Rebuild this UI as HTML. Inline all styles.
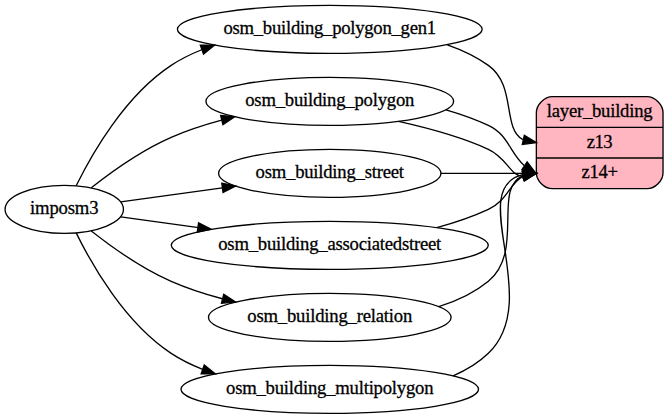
<!DOCTYPE html>
<html><head><meta charset="utf-8"><style>
html,body{margin:0;padding:0;background:#fff;width:668px;height:419px;overflow:hidden}
svg{display:block}
text{font-family:"Liberation Serif",serif;stroke:#000;stroke-width:0.22px}
</style></head><body>
<svg width="668" height="419" viewBox="0 0 501 314.25">
<g id="graph0" class="graph" transform="scale(1 1) rotate(0) translate(4 310)">
<polygon fill="white" stroke="transparent" points="-4,4 -4,-310 497.27,-310 497.27,4 -4,4"/>
<g id="node1" class="node">
<path fill="lightpink" stroke="black" d="M410.27,-168.5C410.27,-168.5 481.27,-168.5 481.27,-168.5 487.27,-168.5 493.27,-174.5 493.27,-180.5 493.27,-180.5 493.27,-225.5 493.27,-225.5 493.27,-231.5 487.27,-237.5 481.27,-237.5 481.27,-237.5 410.27,-237.5 410.27,-237.5 404.27,-237.5 398.27,-231.5 398.27,-225.5 398.27,-225.5 398.27,-180.5 398.27,-180.5 398.27,-174.5 404.27,-168.5 410.27,-168.5"/>
<text text-anchor="middle" x="445.77" y="-222.3" font-family="Liberation Serif, serif" font-size="14.00" textLength="79.36">layer_building</text>
<polyline fill="none" stroke="black" points="398.27,-214.5 493.27,-214.5 "/>
<text text-anchor="middle" x="445.77" y="-199.3" font-family="Liberation Serif, serif" font-size="14.00" textLength="19.45">z13</text>
<polyline fill="none" stroke="black" points="398.27,-191.5 493.27,-191.5 "/>
<text text-anchor="middle" x="445.77" y="-176.3" font-family="Liberation Serif, serif" font-size="14.00" textLength="27.35">z14+</text>
</g>
<g id="node2" class="node">
<ellipse fill="none" stroke="black" cx="44.2" cy="-153" rx="44.39" ry="18"/>
<text text-anchor="middle" x="44.2" y="-149.3" font-family="Liberation Serif, serif" font-size="14.00" textLength="51.34">imposm3</text>
</g>
<g id="node3" class="node">
<ellipse fill="none" stroke="black" cx="243.33" cy="-288" rx="114.28" ry="18"/>
<text text-anchor="middle" x="243.33" y="-284.3" font-family="Liberation Serif, serif" font-size="14.00" textLength="159.53">osm_building_polygon_gen1</text>
</g>
<g id="edge1" class="edge">
<path fill="none" stroke="black" d="M53.14,-170.64C65.03,-194.93 89.81,-238.27 124.39,-261 131.46,-265.64 139.22,-269.5 147.28,-272.69"/>
<polygon fill="black" stroke="black" points="146.26,-276.04 156.85,-276.14 148.63,-269.46 146.26,-276.04"/>
</g>
<g id="node4" class="node">
<ellipse fill="none" stroke="black" cx="243.33" cy="-234" rx="92.88" ry="18"/>
<text text-anchor="middle" x="243.33" y="-230.3" font-family="Liberation Serif, serif" font-size="14.00" textLength="126.83">osm_building_polygon</text>
</g>
<g id="edge2" class="edge">
<path fill="none" stroke="black" d="M64.48,-169.21C79.81,-181.3 102.28,-197.34 124.39,-207 136.28,-212.19 149.3,-216.45 162.2,-219.92"/>
<polygon fill="black" stroke="black" points="161.48,-223.35 172.03,-222.43 163.21,-216.57 161.48,-223.35"/>
</g>
<g id="node5" class="node">
<ellipse fill="none" stroke="black" cx="243.33" cy="-180" rx="83.39" ry="18"/>
<text text-anchor="middle" x="243.33" y="-176.3" font-family="Liberation Serif, serif" font-size="14.00" textLength="111.27">osm_building_street</text>
</g>
<g id="edge3" class="edge">
<path fill="none" stroke="black" d="M86.52,-158.66C108.65,-161.69 136.66,-165.53 162.81,-169.11"/>
<polygon fill="black" stroke="black" points="162.35,-172.58 172.73,-170.47 163.3,-165.64 162.35,-172.58"/>
</g>
<g id="node6" class="node">
<ellipse fill="none" stroke="black" cx="243.33" cy="-126" rx="118.88" ry="18"/>
<text text-anchor="middle" x="243.33" y="-122.3" font-family="Liberation Serif, serif" font-size="14.00" textLength="167.26">osm_building_associatedstreet</text>
</g>
<g id="edge4" class="edge">
<path fill="none" stroke="black" d="M86.52,-147.34C103.5,-145.01 123.95,-142.21 144.36,-139.42"/>
<polygon fill="black" stroke="black" points="144.93,-142.87 154.37,-138.05 143.98,-135.94 144.93,-142.87"/>
</g>
<g id="node7" class="node">
<ellipse fill="none" stroke="black" cx="243.33" cy="-72" rx="90.98" ry="18"/>
<text text-anchor="middle" x="243.33" y="-68.3" font-family="Liberation Serif, serif" font-size="14.00" textLength="123.70">osm_building_relation</text>
</g>
<g id="edge5" class="edge">
<path fill="none" stroke="black" d="M64.48,-136.79C79.81,-124.7 102.28,-108.66 124.39,-99 136.43,-93.74 149.63,-89.44 162.7,-85.94"/>
<polygon fill="black" stroke="black" points="163.82,-89.27 172.65,-83.42 162.1,-82.49 163.82,-89.27"/>
</g>
<g id="node8" class="node">
<ellipse fill="none" stroke="black" cx="243.33" cy="-18" rx="111.58" ry="18"/>
<text text-anchor="middle" x="243.33" y="-14.3" font-family="Liberation Serif, serif" font-size="14.00" textLength="155.62">osm_building_multipolygon</text>
</g>
<g id="edge6" class="edge">
<path fill="none" stroke="black" d="M53.14,-135.36C65.03,-111.07 89.81,-67.73 124.39,-45 131.66,-40.22 139.66,-36.28 147.98,-33.04"/>
<polygon fill="black" stroke="black" points="149.22,-36.31 157.47,-29.66 146.87,-29.71 149.22,-36.31"/>
</g>
<g id="edge7" class="edge">
<path fill="none" stroke="black" d="M331.5,-276.41C342.46,-272.6 353.04,-267.59 362.27,-261 383.49,-245.85 372.42,-213.9 388.14,-205.22"/>
<polygon fill="black" stroke="black" points="389.25,-208.56 398.27,-203 387.75,-201.72 389.25,-208.56"/>
</g>
<g id="edge8" class="edge">
<path fill="none" stroke="black" d="M294.91,-218.94C316.36,-214.13 341.21,-207.77 362.27,-198 376.73,-191.29 378.3,-178.13 388.47,-177.61"/>
<polygon fill="black" stroke="black" points="387.73,-181.04 398.27,-180 389.38,-174.23 387.73,-181.04"/>
</g>
<g id="edge9" class="edge">
<path fill="none" stroke="black" d="M330.46,-227.66C341.41,-224.51 352.27,-220.64 362.27,-216 377.04,-209.15 378.37,-195.56 389.13,-185.89"/>
<polygon fill="black" stroke="black" points="391.36,-188.62 397.81,-180.21 387.52,-182.76 391.36,-188.62"/>
</g>
<g id="edge10" class="edge">
<path fill="none" stroke="black" d="M326.62,-180C346.44,-180 367.77,-180 388.08,-180"/>
<polygon fill="black" stroke="black" points="388.27,-183.5 398.27,-180 388.27,-176.5 388.27,-183.5"/>
</g>
<g id="edge11" class="edge">
<path fill="none" stroke="black" d="M323.58,-139.32C336.82,-142.9 350.17,-147.39 362.27,-153 376.73,-159.71 378.3,-172.87 388.47,-177.94"/>
<polygon fill="black" stroke="black" points="387.77,-181.37 398.27,-180 389.2,-174.52 387.77,-181.37"/>
</g>
<g id="edge12" class="edge">
<path fill="none" stroke="black" d="M325.11,-79.98C338.55,-84.13 351.57,-90.19 362.27,-99 389.6,-121.5 365.08,-168.95 388.39,-178.36"/>
<polygon fill="black" stroke="black" points="387.83,-181.81 398.27,-180 388.98,-174.91 387.83,-181.81"/>
</g>
<g id="edge13" class="edge">
<path fill="none" stroke="black" d="M335.85,-28.14C345.61,-32.23 354.71,-37.71 362.27,-45 404.16,-85.43 344.57,-168.71 388.12,-178.96"/>
<polygon fill="black" stroke="black" points="387.97,-182.46 398.27,-180 388.68,-175.5 387.97,-182.46"/>
</g>
</g>
</svg>

</body></html>
